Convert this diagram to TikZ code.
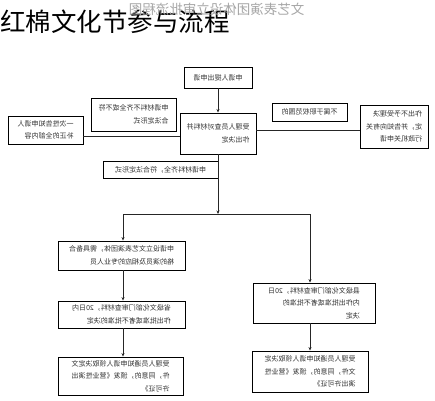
\documentclass[tikz,border=0pt]{standalone}
\usepackage{fontspec}
\usepackage{graphicx}
\usetikzlibrary{arrows.meta}
\newfontfamily\cjk{Noto Sans CJK SC}
\newcommand\mt[1]{\reflectbox{\begin{tabular}{@{}l@{}}#1\end{tabular}}}
\tikzset{
  box/.style={draw=black, line width=0.9pt, inner sep=0pt, text=black!80,
    font=\cjk\fontsize{7}{12.5}\selectfont},
  conn/.style={draw=black!85, line width=0.7pt},
  arr/.style={conn, -{Stealth[length=3.5pt,width=3pt]}}
}
\begin{document}
\begin{tikzpicture}[x=1pt,y=-1pt]
\useasboundingbox (0,0) rectangle (435,400);
\fill[white] (0,0) rectangle (435,400);
% title and watermark
\node[font=\cjk\fontsize{25.5}{28}\selectfont, anchor=west, inner sep=0pt] (title) at (0,22) {红棉文化节参与流程};
\node[font=\cjk\fontsize{13.5}{15}\selectfont, text=black!35, inner sep=0pt] (wm) at (216.5,9) {\reflectbox{文艺表演团体设立审批流程图}};
% boxes
\node[box, minimum width=68pt, minimum height=21pt] (top) at (218,77.5) {\mt{申请人提出申请}};
\node[box, minimum width=76pt, minimum height=41pt] (cb) at (218,133.5) {\mt{受理人员查对材料并\\作出决定\\ }};
\node[box, minimum width=85pt, minimum height=33pt] (ls) at (133.5,114.5) {\mt{申请材料不齐全或不符\\合法定形式}};
\node[box, minimum width=75pt, minimum height=28pt] (fl) at (45.5,130) {\mt{一次性告知申请人\\补正的全部内容}};
\node[box, minimum width=75pt, minimum height=18pt] (rs) at (309.5,112) {\mt{不属于职权范围的}};
\node[box, minimum width=68pt, minimum height=43pt] (fr) at (394,126.5) {\mt{作出不予受理决\\定，并告知向有关\\行政机关申请}};
\node[box, minimum width=115pt, minimum height=17pt] (mid) at (160.5,169.5) {\mt{申请材料齐全，符合法定形式}};
\node[box, minimum width=127pt, minimum height=29pt] (l1) at (121.5,255.5) {\mt{申请设立文艺表演团体，需具备合\\格的演员及相应的专业人员}};
\node[box, minimum width=127pt, minimum height=27pt] (l2) at (121.5,314.5) {\mt{省级文化部门审查材料，20日内\\作出批准或者不批准的决定}};
\node[box, minimum width=125pt, minimum height=38pt] (l3) at (120.5,376) {\mt{受理人员通知申请人领取决定文\\件，同意的，颁发《营业性演出\\许可证》}};
\node[box, minimum width=122pt, minimum height=40pt] (r1) at (314,303) {\mt{县级文化部门审查材料，20日\\内作出批准或者不批准的\\决定}};
\node[box, minimum width=116pt, minimum height=41pt] (r3) at (310,371.5) {\mt{受理人员通知申请人领取决定\\文件，同意的，颁发《营业性\\演出许可证》}};
% helper coordinates
\coordinate (hl) at (0,136);
\coordinate (hr) at (0,130);
\coordinate (jn) at (218,214);
\coordinate (jl) at (123,214);
\coordinate (jr) at (310,214);
% connectors
\draw[arr] (top.south) -- (cb.north);
\draw[conn] (cb.west |- hl) -- (fl.east |- hl);
\draw[conn] (cb.east |- hr) -- (fr.west |- hr);
\draw[arr] (cb.south) -- (jn);
\draw[conn] (jl) -- (jr);
\draw[arr] (jl) -- (jl |- l1.north);
\draw[arr] (jr) -- (jr |- r1.north);
\draw[arr] (l1.south -| jl) -- (l2.north -| jl);
\draw[arr] (l2.south -| jl) -- (l3.north -| jl);
\draw[arr] (r1.south -| jr) -- (r3.north -| jr);
\end{tikzpicture}
\end{document}
